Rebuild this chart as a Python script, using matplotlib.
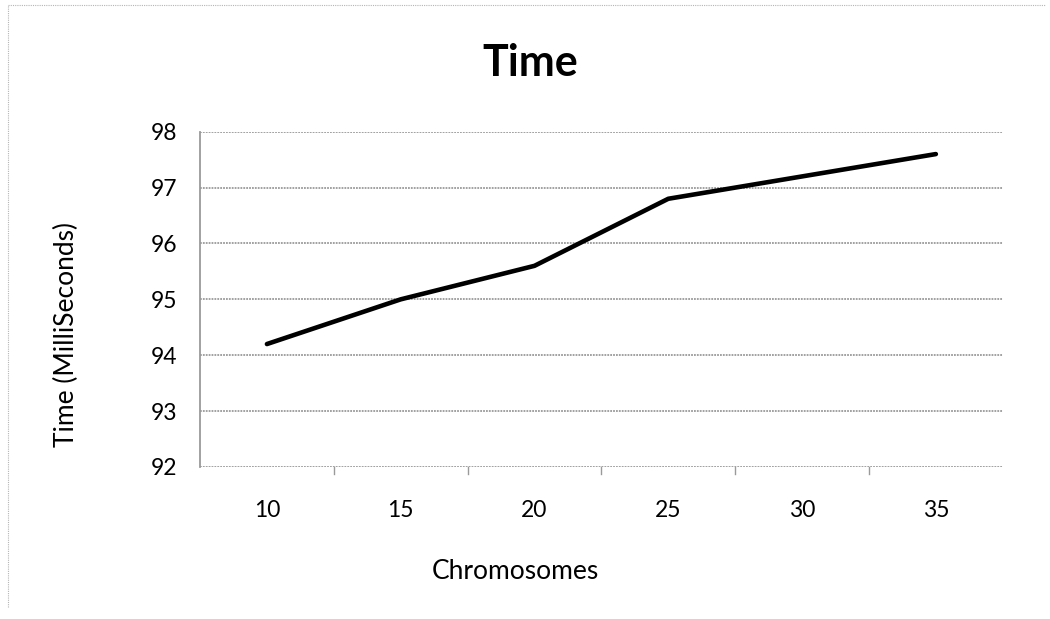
import matplotlib
matplotlib.use("Agg")
import matplotlib.pyplot as plt
from matplotlib.lines import Line2D

# Chart data
chromosomes = ["10", "15", "20", "25", "30", "35"]
time_ms = [94.2, 95.0, 95.6, 96.8, 97.2, 97.6]
y_ticks = [92, 93, 94, 95, 96, 97, 98]

plt.rcParams["font.family"] = ["Lato", "DejaVu Sans"]

fig = plt.figure(figsize=(10.5, 6.19), dpi=100)
ax = fig.add_axes([0.1905, 0.2456, 0.7645, 0.5416])

x = list(range(len(chromosomes)))
ax.plot(x, time_ms, color="black", lw=3.3, solid_capstyle="round", zorder=3)

ax.set_xlim(-0.5, len(chromosomes) - 0.5)
ax.set_ylim(92, 98)
ax.set_yticks(y_ticks)
ax.set_yticklabels([str(v) for v in y_ticks], fontsize=16.5)
ax.set_xticks(x)
ax.set_xticklabels(chromosomes, fontsize=16.5)

# horizontal gridlines
for v in y_ticks:
    ax.axhline(v, color="#9a9a9a", lw=1.3, ls=(0, (1, 0.6)), zorder=1)

# tick marks between categories on the category axis
ax.tick_params(axis="x", length=0, pad=24)
ax.tick_params(axis="y", length=0, pad=16.5)
for b in [i + 0.5 for i in x[:-1]]:
    ax.plot([b, b], [92, 91.88], color="#9a9a9a", lw=1.0, clip_on=False)

for s in ["top", "right", "bottom"]:
    ax.spines[s].set_visible(False)
ax.spines["left"].set_color("#9a9a9a")
ax.spines["left"].set_linewidth(1.3)

fig.text(0.505, 0.898, "Time", ha="center", va="center",
         fontsize=31, fontweight="bold")
fig.text(0.063, 0.4604, "Time (MilliSeconds)", ha="center", va="center",
         rotation=90, fontsize=19)
fig.text(0.4905, 0.0775, "Chromosomes", ha="center", va="center", fontsize=19)

# faint border of the chart area
fig.add_artist(Line2D([0.008, 0.995], [0.992, 0.992], transform=fig.transFigure,
                      color="#b5b5b5", lw=0.8, ls=(0, (1, 1))))
fig.add_artist(Line2D([0.008, 0.008], [0.02, 0.992], transform=fig.transFigure,
                      color="#b5b5b5", lw=0.8, ls=(0, (1, 1))))

fig.savefig("out.png", dpi=100, facecolor="white")
